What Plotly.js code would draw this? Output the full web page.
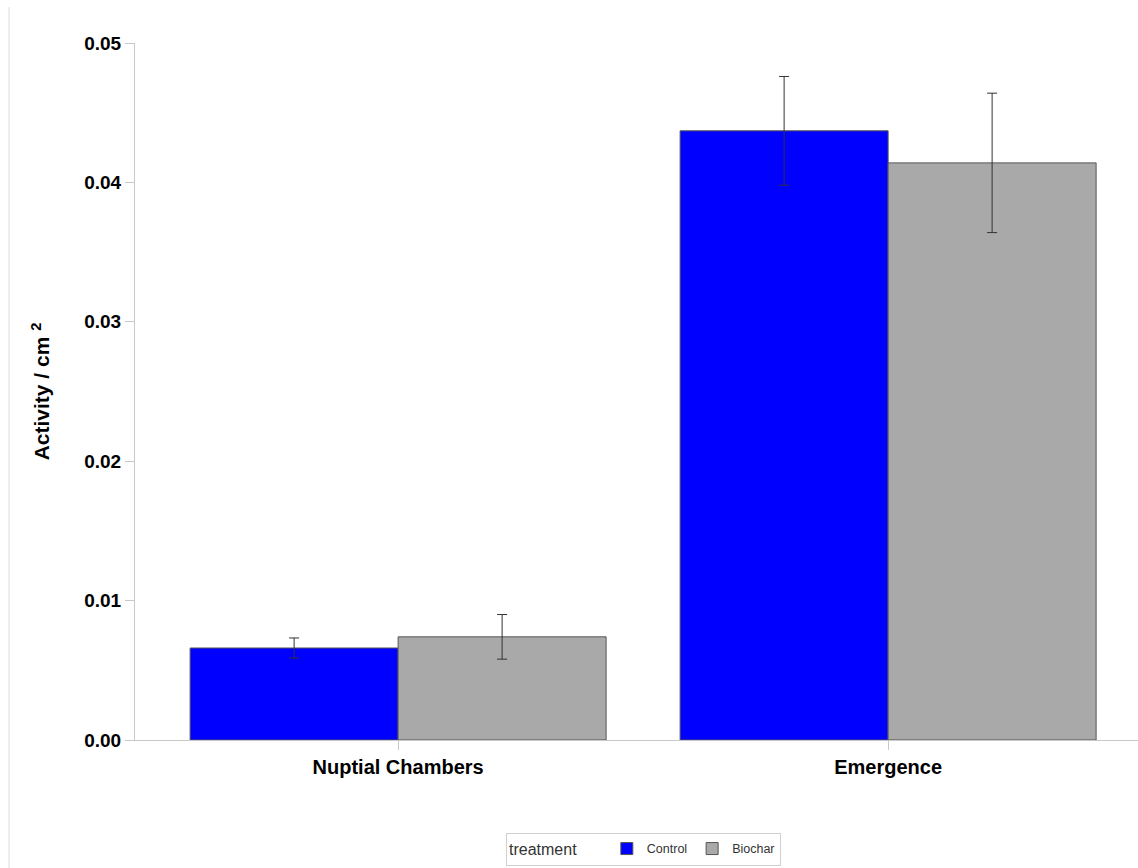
<!DOCTYPE html>
<html>
<head>
<meta charset="utf-8">
<script src="https://cdn.plot.ly/plotly-3.0.1.min.js"></script>
<style>
html,body{margin:0;padding:0;background:#fff;}
#chart{width:1138px;height:868px;}
</style>
</head>
<body>
<div id="chart"></div>
<script>
const categories = ["Nuptial Chambers", "Emergence"];
const controlValues = [0.0066, 0.0437];
const controlErrors = [0.00072, 0.0039];
const biocharValues = [0.0074, 0.0414];
const biocharErrors = [0.0016, 0.0050];
const yTicks = [0, 0.01, 0.02, 0.03, 0.04, 0.05];
const yTickLabels = ["0.00", "0.01", "0.02", "0.03", "0.04", "0.05"];

const font = "Liberation Sans, Arial, Helvetica, sans-serif";

const traces = [
  {
    type: "bar", name: "Control", x: categories, y: controlValues,
    marker: {color: "#0000ff", line: {color: "#555555", width: 1}},
    error_y: {type: "data", array: controlErrors, visible: true, color: "#333333", thickness: 1, width: 5}
  },
  {
    type: "bar", name: "Biochar", x: categories, y: biocharValues,
    marker: {color: "#a9a9a9", line: {color: "#555555", width: 1}},
    error_y: {type: "data", array: biocharErrors, visible: true, color: "#333333", thickness: 1, width: 5}
  }
];

const layout = {
  width: 1138, height: 868,
  margin: {l: 135, r: 0, t: 43, b: 128},
  paper_bgcolor: "#ffffff", plot_bgcolor: "#ffffff",
  font: {family: font, color: "#000000"},
  barmode: "group", bargap: 0.151, bargroupgap: 0,
  showlegend: true,
  xaxis: {
    range: [-0.537, 1.51],
    showline: true, linecolor: "#c8c8c8", linewidth: 1,
    ticks: "outside", ticklen: 9, tickcolor: "#c8c8c8",
    showgrid: false, zeroline: false,
    tickfont: {family: font, size: 20, color: "#000", weight: "bold"}
  },
  yaxis: {
    range: [0, 0.05],
    tickvals: yTicks, ticktext: yTickLabels,
    showline: true, linecolor: "#c8c8c8", linewidth: 1,
    ticks: "outside", ticklen: 9, tickcolor: "#c8c8c8",
    showgrid: false, zeroline: false,
    tickfont: {family: font, size: 19, color: "#000", weight: "bold"},
    title: {text: "Activity / cm <sup>2</sup>", font: {family: font, size: 21, color: "#000", weight: "bold"}, standoff: 28}
  },
  legend: {
    orientation: "h",
    x: 0.507, xanchor: "center", y: -0.157, yanchor: "middle",
    bordercolor: "#d0d0d0", borderwidth: 1,
    font: {family: font, size: 12.5, color: "#333"},
    title: {text: "treatment     ", side: "left", font: {family: font, size: 16, color: "#333"}},
    itemwidth: 30, traceorder: "normal"
  },
  shapes: [
    {type: "line", xref: "paper", yref: "paper", x0: -0.1256, x1: -0.1256, y0: 1.0516, y1: -0.184, line: {color: "#dddddd", width: 1}}
  ]
};

Plotly.newPlot("chart", traces, layout, {displayModeBar: false, staticPlot: true});
</script>
</body>
</html>
